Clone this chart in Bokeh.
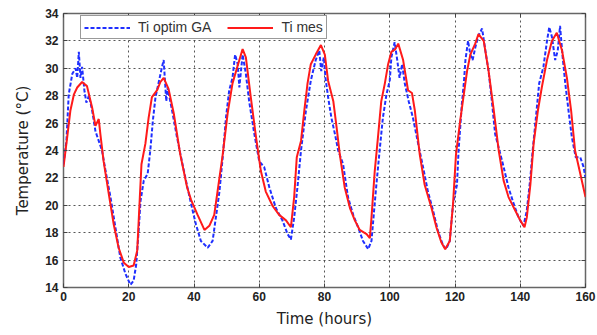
from bokeh.plotting import figure
from bokeh.models import LinearAxis, Range1d, FixedTicker, Legend, LegendItem
from bokeh.embed import file_html
from bokeh.resources import INLINE

# Measured indoor temperature (red)
t_mes = [0.0, 1.1, 2.1, 3.2, 4.2, 5.7, 7.2, 8.8, 9.8, 10.8, 11.3, 12.3, 13.9, 15.4, 16.9, 18.5,
         20.0, 21.5, 22.6, 23.4, 23.9, 25.1, 26.1, 27.1, 28.7, 29.7, 30.7, 32.2, 33.8, 35.8, 37.9,
         39.1, 41.1, 43.2, 44.7, 46.2, 47.8, 48.8, 50.3, 51.8, 53.4, 54.9, 55.9, 57.4, 59.0, 60.5,
         62.0, 64.1, 66.1, 68.2, 69.7, 70.7, 71.5, 72.8, 73.8, 74.8, 75.8, 77.3, 78.9, 80.1, 81.1,
         82.7, 83.7, 84.7, 86.2, 87.8, 89.3, 90.8, 92.9, 93.9, 94.4, 95.4, 96.4, 97.4, 98.5, 99.5,
         100.5, 101.7, 102.6, 104.1, 105.6, 106.8, 107.7, 109.2, 110.7, 112.8, 114.3, 115.8, 117.0,
         118.4, 119.4, 120.3, 121.6, 122.7, 123.7, 124.7, 126.2, 127.2, 128.8, 130.3, 131.8, 133.4,
         134.9, 136.4, 138.5, 140.0, 141.3, 142.0, 143.1, 144.1, 145.4, 146.6, 148.2, 149.7, 151.2,
         152.8, 154.3, 155.6, 156.8, 158.4, 160.0]
T_mes = [22.8, 24.9, 26.9, 28.1, 28.6, 29.0, 28.7, 27.1, 25.8, 26.3, 25.2, 23.2, 20.8, 18.6, 16.9, 15.8,
         15.5, 15.6, 16.7, 20.6, 23.0, 24.5, 26.4, 27.9, 28.4, 29.0, 29.3, 28.5, 26.7, 23.7, 21.3,
         20.4, 19.3, 18.2, 18.5, 19.3, 22.0, 23.7, 26.7, 28.9, 30.2, 31.4, 30.8, 27.9, 25.0, 22.5,
         21.0, 19.95, 19.3, 18.9, 18.4, 20.6, 23.5, 24.7, 26.9, 28.9, 30.3, 31.0, 31.7, 31.0, 29.1,
         27.6, 25.7, 23.7, 21.3, 19.8, 18.9, 18.2, 17.9, 17.6, 19.1, 22.5, 25.0, 27.6, 28.9, 30.3,
         31.2, 31.4, 31.8, 30.6, 28.4, 28.2, 26.9, 23.7, 21.5, 19.8, 18.4, 17.3, 16.8,
         17.4, 20.1, 23.7, 26.2, 28.1, 29.8, 31.0, 31.8, 32.5, 32.0, 29.8, 27.1, 24.0,
         21.8, 20.6, 19.6, 18.9, 18.4, 19.1, 21.5, 24.5, 26.9, 28.6, 30.6, 32.0, 32.6,
         31.3, 29.3, 26.9, 24.0, 22.3, 20.6]

# GA-optimised model (blue dashed)
t_ga = [0.0, 0.9, 1.6, 2.7, 3.7, 4.2, 4.7, 5.2, 5.7, 6.4, 7.0, 7.8, 8.8, 9.8, 10.8, 11.8, 12.9, 14.4,
        15.9, 17.4, 19.0, 20.5, 21.5, 22.3, 23.1, 23.6, 24.6, 25.8, 26.6, 27.4, 28.2, 29.2, 30.2,
        30.7, 31.5, 31.9, 33.3, 34.8, 36.3, 37.8, 39.4, 40.6, 42.1, 44.2, 45.7, 46.7, 47.8, 48.8,
        49.8, 50.8, 51.8, 52.6, 53.4, 53.9, 54.4, 54.9, 55.9, 56.9, 58.5, 60.0, 61.5, 63.1, 65.1,
        67.1, 68.7, 69.7, 70.7, 71.7, 72.8, 74.3, 75.8, 77.3, 78.4, 79.0, 79.8, 80.3, 81.1, 82.1,
        83.2, 84.2, 85.7, 87.2, 88.8, 90.3, 91.8, 93.4, 94.4, 95.2, 95.9, 96.9, 97.9, 99.0, 100.0,
        100.5, 101.5, 102.3, 103.0, 103.8, 104.6, 105.8, 107.1, 108.7, 110.2, 111.7, 113.3, 114.8,
        116.3, 117.3, 118.4, 119.4, 120.6, 121.1, 122.1, 122.7, 123.2, 124.0, 124.7, 125.4, 126.2,
        127.2, 128.3, 129.3, 130.3, 131.3, 132.3, 133.4, 134.9, 136.4, 138.0, 139.5, 141.0, 142.0,
        143.1, 143.8, 144.6, 145.8, 147.1, 148.2, 148.9, 149.7, 150.7, 151.5, 152.2, 153.0, 153.8,
        154.8, 155.8, 157.0, 158.4, 159.4, 160.0]
T_ga = [23.0, 24.7, 28.1, 29.6, 30.0, 29.3, 31.2, 29.3, 30.1, 28.4, 27.5, 28.0, 26.9, 25.4, 24.7, 24.0, 22.5, 20.6,
        18.4, 16.2, 15.0, 14.2, 14.5, 15.7, 18.4, 20.3, 21.8, 22.3, 24.0, 26.2, 27.9, 29.0, 30.1,
        30.6, 27.6, 28.6, 26.9, 24.95, 23.2, 21.5, 19.8, 18.6, 17.4, 16.9, 17.4, 19.1, 21.0, 23.5,
        26.4, 28.4, 29.3, 31.0, 30.3, 28.6, 29.8, 31.0, 29.6, 27.6, 25.2, 23.2, 22.8, 21.3, 19.8,
        18.9, 17.9, 17.5, 19.1, 21.3, 24.0, 26.9, 29.1, 30.6, 31.3, 29.8, 30.8, 29.3, 27.9, 26.4,
        25.2, 24.0, 23.0, 20.6, 19.3, 18.4, 17.4, 16.8, 17.4, 19.6, 21.5, 24.0, 26.4, 28.1, 29.1,
        30.8, 31.9, 30.6, 29.3, 30.3, 28.9, 27.6, 26.4, 24.5, 22.8, 21.0, 19.6, 18.1,
        17.1, 16.8, 17.4, 20.1, 21.5, 24.0, 27.4, 28.9, 30.6, 32.0, 31.0, 30.6, 31.5,
        32.4, 32.9, 31.3, 29.8, 27.6, 25.2, 24.2, 22.8, 21.3, 20.1, 19.1, 18.5, 19.6,
        22.0, 24.0, 25.9, 28.9, 30.1, 32.0, 33.0, 32.3, 30.6, 31.3, 33.1, 30.8, 28.9,
        26.9, 25.0, 23.5, 23.5, 22.8, 22.0]

x_ticks = [0, 20, 40, 60, 80, 100, 120, 140, 160]
y_ticks = [14, 16, 18, 20, 22, 24, 26, 28, 30, 32, 34]
x_label = "Time (hours)"
y_label = "Temperature (°C)"
label_ga = "Ti optim GA"
label_mes = "Ti mes"

FONT = "Liberation Sans"
LABEL_FONT = "DejaVu Sans"

p = figure(width=597, height=335, output_backend="svg", toolbar_location=None,
           x_range=Range1d(0, 160), y_range=Range1d(14, 34),
           min_border_left=63, min_border_right=12, min_border_top=13, min_border_bottom=48,
           frame_width=522, frame_height=274)
p.background_fill_color = "white"
p.border_fill_color = "white"
p.outline_line_color = "#666666"
p.outline_line_width = 1.5

r_ga = p.line(t_ga, T_ga, line_color="#1f2fff", line_width=2, line_dash="4 2")
r_mes = p.line(t_mes, T_mes, line_color="#ff1a1a", line_width=2)

for ax, ticks in ((p.xaxis[0], x_ticks), (p.yaxis[0], y_ticks)):
    ax.ticker = FixedTicker(ticks=ticks)
    ax.major_tick_in = 4
    ax.major_tick_out = 0
    ax.minor_tick_in = 0
    ax.minor_tick_out = 0
    ax.axis_line_color = None
    ax.major_tick_line_color = "#444444"
    ax.major_label_text_font = FONT
    ax.major_label_text_font_style = "bold"
    ax.major_label_text_font_size = "12px"
    ax.major_label_text_color = "#222222"
    ax.axis_label_text_font = LABEL_FONT
    ax.axis_label_text_font_style = "normal"
    ax.axis_label_text_font_size = "15px"
    ax.axis_label_text_color = "#222222"

p.xaxis[0].axis_label = x_label
p.yaxis[0].axis_label = y_label
p.xaxis[0].major_label_standoff = 4
p.yaxis[0].major_label_standoff = 5
p.xaxis[0].axis_label_standoff = 6
p.yaxis[0].axis_label_standoff = 10

for place, ticks in (("above", x_ticks), ("right", y_ticks)):
    ax = LinearAxis(ticker=FixedTicker(ticks=ticks), major_tick_in=4, major_tick_out=0,
                    minor_tick_in=0, minor_tick_out=0, axis_line_color=None,
                    major_tick_line_color="#444444", major_label_text_color=None,
                    major_label_standoff=0)
    p.add_layout(ax, place)

p.xgrid.ticker = FixedTicker(ticks=x_ticks)
p.ygrid.ticker = FixedTicker(ticks=y_ticks)
for g in (p.xgrid[0], p.ygrid[0]):
    g.grid_line_color = "#444444"
    g.grid_line_dash = "2 3"
    g.grid_line_width = 1
    g.grid_line_alpha = 0.9

legend = Legend(items=[LegendItem(label=label_ga, renderers=[r_ga]),
                       LegendItem(label=label_mes, renderers=[r_mes])],
                orientation="horizontal", location=(17, 248))
legend.label_text_font = FONT
legend.label_text_font_size = "14px"
legend.label_text_color = "#333333"
legend.glyph_width = 46
legend.glyph_height = 15
legend.label_height = 15
legend.label_standoff = 8
legend.spacing = 16
legend.padding = 3
legend.margin = 0
legend.border_line_color = "#333333"
legend.border_line_width = 1.5
legend.background_fill_color = "white"
legend.background_fill_alpha = 1
p.add_layout(legend, "center")

open("out.html", "w").write(file_html(p, INLINE))
